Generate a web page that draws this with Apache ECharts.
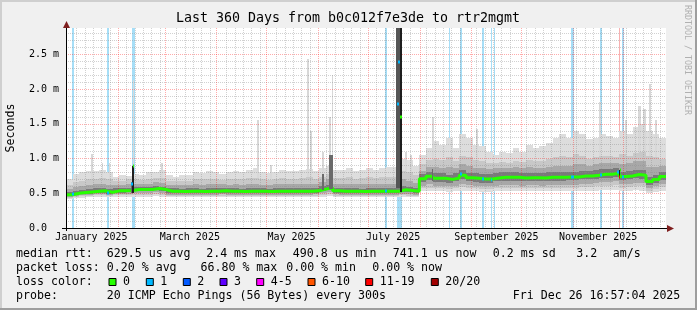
<!DOCTYPE html>
<html><head><meta charset="utf-8">
<script src="https://cdn.jsdelivr.net/npm/echarts@6/dist/echarts.min.js"></script>
<style>html,body{margin:0;padding:0;background:#f0f0f0}#c{width:697px;height:310px}</style>
</head><body><div id="c"></div>
<script>
// ---------------- DATA (days since 2024-12-31 16:57:04, values in ms) ----------------
const BIN_DAYS = 4;
const median = [0.48,0.50,0.51,0.52,0.53,0.535,0.515,0.535,0.535,0.54,
 0.555,0.555,0.555,0.57,0.555,0.53,0.53,0.525,0.53,0.53,
 0.525,0.53,0.53,0.535,0.53,0.53,0.525,0.53,0.53,0.53,
 0.525,0.53,0.53,0.53,0.53,0.53,0.53,0.535,0.56,0.58,
 0.535,0.53,0.53,0.53,0.525,0.53,0.53,0.53,0.53,0.53,
 0.55,0.54,0.53,0.71,0.745,0.715,0.715,0.70,0.72,0.76,
 0.725,0.715,0.705,0.705,0.72,0.73,0.73,0.73,0.72,0.725,
 0.725,0.72,0.73,0.73,0.73,0.735,0.735,0.75,0.75,0.76,
 0.775,0.775,0.79,0.74,0.75,0.77,0.76,0.67,0.70,0.74];
const smokeMin = [0.42,0.43,0.435,0.44,0.445,0.445,0.44,0.445,0.445,0.445,
 0.45,0.45,0.45,0.455,0.45,0.44,0.44,0.44,0.44,0.44,
 0.44,0.44,0.44,0.44,0.44,0.44,0.44,0.44,0.44,0.44,
 0.44,0.44,0.44,0.44,0.44,0.44,0.44,0.44,0.45,0.46,
 0.44,0.44,0.44,0.44,0.44,0.44,0.44,0.44,0.44,0.44,
 0.45,0.45,0.44,0.53,0.54,0.53,0.53,0.52,0.53,0.54,
 0.53,0.53,0.52,0.52,0.53,0.53,0.53,0.53,0.53,0.53,
 0.53,0.53,0.53,0.53,0.53,0.53,0.53,0.54,0.54,0.54,
 0.55,0.55,0.55,0.53,0.54,0.55,0.54,0.50,0.52,0.54];
const smokeMax = [0.70,0.78,0.80,0.82,0.82,0.84,0.80,0.74,0.76,0.75,
 0.78,0.76,0.80,0.80,0.84,0.76,0.74,0.76,0.77,0.80,
 0.79,0.82,0.80,0.78,0.80,0.82,0.80,0.84,0.86,0.80,
 0.79,0.80,0.84,0.82,0.82,0.84,0.85,0.82,0.86,0.90,
 0.84,0.84,0.86,0.82,0.83,0.86,0.84,0.86,0.88,0.88,
 1.00,0.98,0.90,1.05,1.15,1.25,1.20,1.30,1.15,1.35,
 1.30,1.20,1.18,1.10,1.05,1.10,1.08,1.15,1.10,1.20,
 1.15,1.18,1.22,1.30,1.35,1.30,1.40,1.35,1.28,1.30,
 1.35,1.32,1.30,1.40,1.35,1.45,1.50,1.40,1.35,1.30];
const band2Lo = [0.435,0.45,0.46,0.465,0.47,0.47,0.46,0.47,0.47,0.47,
 0.48,0.48,0.48,0.49,0.48,0.46,0.46,0.46,0.46,0.46,
 0.46,0.46,0.46,0.46,0.46,0.46,0.46,0.46,0.46,0.46,
 0.46,0.46,0.46,0.46,0.46,0.46,0.46,0.46,0.48,0.49,
 0.46,0.46,0.46,0.46,0.46,0.46,0.46,0.46,0.46,0.46,
 0.47,0.465,0.46,0.57,0.58,0.57,0.57,0.56,0.57,0.59,
 0.57,0.57,0.56,0.56,0.57,0.575,0.575,0.575,0.57,0.57,
 0.57,0.57,0.575,0.575,0.575,0.58,0.58,0.59,0.59,0.60,
 0.61,0.61,0.62,0.58,0.59,0.60,0.60,0.53,0.56,0.59];
const band2Hi = [0.62,0.66,0.68,0.70,0.70,0.72,0.70,0.68,0.68,0.70,
 0.70,0.69,0.70,0.72,0.72,0.68,0.67,0.68,0.68,0.70,
 0.70,0.71,0.70,0.69,0.70,0.71,0.70,0.72,0.72,0.70,
 0.69,0.70,0.72,0.71,0.71,0.72,0.73,0.71,0.74,0.78,
 0.72,0.72,0.73,0.71,0.72,0.73,0.72,0.73,0.74,0.74,
 0.82,0.80,0.76,0.92,0.98,1.00,0.98,1.02,0.96,1.04,
 1.02,0.98,0.97,0.94,0.93,0.95,0.94,0.97,0.95,0.98,
 0.96,0.97,0.99,1.02,1.04,1.02,1.06,1.04,1.00,1.02,
 1.04,1.03,1.02,1.06,1.04,1.08,1.10,1.04,1.02,1.00];
const band3Lo = [0.445,0.46,0.47,0.48,0.485,0.49,0.475,0.49,0.49,0.49,
 0.50,0.50,0.50,0.515,0.50,0.48,0.48,0.475,0.48,0.48,
 0.475,0.48,0.48,0.485,0.48,0.48,0.475,0.48,0.48,0.48,
 0.475,0.48,0.48,0.48,0.48,0.48,0.48,0.485,0.50,0.52,
 0.485,0.48,0.48,0.48,0.475,0.48,0.48,0.48,0.48,0.48,
 0.49,0.485,0.48,0.61,0.63,0.61,0.61,0.60,0.61,0.64,
 0.62,0.61,0.60,0.60,0.61,0.62,0.62,0.62,0.61,0.615,
 0.615,0.61,0.62,0.62,0.62,0.625,0.625,0.64,0.64,0.65,
 0.66,0.66,0.67,0.63,0.64,0.65,0.65,0.57,0.60,0.63];
const band3Hi = [0.56,0.59,0.61,0.62,0.63,0.64,0.62,0.62,0.62,0.63,
 0.64,0.64,0.64,0.66,0.65,0.62,0.62,0.62,0.62,0.63,
 0.62,0.63,0.63,0.63,0.62,0.63,0.62,0.63,0.63,0.62,
 0.62,0.63,0.63,0.63,0.63,0.63,0.64,0.63,0.66,0.70,
 0.64,0.63,0.64,0.63,0.63,0.64,0.63,0.64,0.64,0.64,
 0.70,0.68,0.65,0.82,0.88,0.88,0.87,0.88,0.86,0.92,
 0.90,0.87,0.86,0.85,0.86,0.87,0.87,0.88,0.86,0.88,
 0.87,0.87,0.88,0.90,0.90,0.90,0.92,0.92,0.90,0.92,
 0.94,0.93,0.94,0.92,0.93,0.96,0.96,0.88,0.88,0.90];
const coreLo = [0.455,0.475,0.485,0.495,0.505,0.51,0.49,0.51,0.51,0.515,
 0.53,0.53,0.53,0.545,0.53,0.505,0.505,0.50,0.505,0.505,
 0.50,0.505,0.505,0.51,0.505,0.505,0.50,0.505,0.505,0.505,
 0.50,0.505,0.505,0.505,0.505,0.505,0.505,0.51,0.53,0.55,
 0.51,0.505,0.505,0.505,0.50,0.505,0.505,0.505,0.505,0.505,
 0.525,0.515,0.505,0.66,0.69,0.665,0.665,0.65,0.67,0.71,
 0.675,0.665,0.655,0.655,0.67,0.68,0.68,0.68,0.67,0.675,
 0.675,0.67,0.68,0.68,0.68,0.685,0.685,0.70,0.70,0.71,
 0.725,0.725,0.74,0.69,0.70,0.72,0.71,0.62,0.65,0.69];
const coreHi = [0.52,0.54,0.55,0.56,0.57,0.575,0.56,0.575,0.575,0.58,
 0.595,0.595,0.595,0.61,0.595,0.57,0.57,0.565,0.57,0.57,
 0.565,0.57,0.57,0.575,0.57,0.57,0.565,0.57,0.57,0.57,
 0.565,0.57,0.57,0.57,0.57,0.57,0.57,0.575,0.60,0.62,
 0.575,0.57,0.57,0.57,0.565,0.57,0.57,0.57,0.57,0.57,
 0.60,0.59,0.575,0.78,0.81,0.785,0.785,0.77,0.79,0.83,
 0.795,0.785,0.775,0.775,0.79,0.80,0.80,0.80,0.79,0.795,
 0.795,0.79,0.80,0.80,0.80,0.805,0.805,0.82,0.82,0.83,
 0.845,0.845,0.86,0.81,0.82,0.84,0.83,0.74,0.77,0.81];
// thin light-gray outlier spikes [fromDay, toDay, low, high]
const spikes = [[15.0,16.2,0.55,1.07],[21.3,21.9,0.55,0.94],[25.5,26.4,0.55,0.94],[39.9,40.8,0.55,2.13],
 [57.0,58.2,0.55,0.94],[114.6,115.8,0.55,1.55],[122.4,123.6,0.55,0.91],[144.6,145.8,0.55,2.43],
 [146.4,147.6,0.55,1.40],[153.6,154.8,0.55,1.09],[157.8,159.0,0.55,1.60],[159.3,160.2,0.55,2.20],
 [203.4,204.6,0.55,1.10],[206.4,207.6,0.55,1.05],[219.6,220.8,0.75,1.60],[246.0,247.2,0.75,1.42],
 [319.5,320.7,0.8,1.82],[335.4,336.6,0.8,1.55],[343.2,345.0,0.8,1.75],[346.2,348.0,0.8,1.72],
 [349.8,351.0,0.8,2.07],[353.4,354.6,0.8,1.55]];
// darker smoke columns (burst of slow replies / outage)
const midDarkBars = [[153.6,154.8,0.55,0.78],[157.8,160.2,0.56,1.05],[219.6,220.4,0.68,0.85],[38.7,39.6,0.50,0.66]];
const darkBars = [[198.2,200.4,0.58,2.88]];
const blackBars = [[39.6,40.6,0.50,0.90],[200.4,201.4,0.52,2.88],[331.8,332.6,0.72,0.84]];
// loss bars [fromDay, toDay, lossClass]
const lossStripes = [[3.3,4.5,1],[24.6,25.8,1],[39.3,41.1,1],[191.4,192.3,1],[198.3,201.3,1],[229.5,230.4,1],
 [236.4,237.3,1],[249.6,250.5,1],[254.7,255.6,1],[256.5,257.4,1],[302.7,304.5,1],[320.4,321.3,1],
 [331.5,332.4,6],[333.3,334.5,1]];
// median samples coloured by loss [fromDay, toDay, value, lossClass]
const lossMarks = [[3.3,4.5,0.49,1],[24.6,25.8,0.51,1],[39.0,39.9,0.63,1],[39.9,40.8,0.90,0],[191.4,192.3,0.53,1],
 [198.4,199.6,1.78,1],[199.4,200.2,2.39,1],[200.4,201.4,1.60,0],[236.4,237.3,0.78,1],[249.6,250.5,0.70,1],
 [254.7,255.6,0.69,1],[302.7,304.5,0.73,1],[320.4,321.3,0.77,1],[330.6,331.5,0.80,1],[331.5,332.4,0.74,6],
 [332.1,333.0,0.84,0],[333.3,334.5,0.74,1]];
const lossLabels = ['0','1','2','3','4-5','6-10','11-19','20/20'];
const monthStarts = [0.29,31.29,59.29,90.29,120.29,151.29,181.29,212.29,243.29,273.29,304.29,334.29];
const minorDays = [6.29,11.29,16.29,21.29,26.29,36.29,41.29,46.29,51.29,56.29,66.29,71.29,76.29,81.29,86.29,
 96.29,101.29,106.29,111.29,116.29,126.29,131.29,136.29,141.29,146.29,156.29,161.29,166.29,171.29,176.29,
 186.29,191.29,196.29,201.29,206.29,216.29,221.29,226.29,231.29,236.29,246.29,251.29,256.29,261.29,266.29,
 276.29,281.29,286.29,291.29,296.29,306.29,311.29,316.29,321.29,326.29,336.29,341.29,346.29,351.29,356.29];
const labelDays = [15.29,74.29,135.29,196.29,258.29,319.29];
const labelTexts = ['January 2025','March 2025','May 2025','July 2025','September 2025','November 2025'];
const yMajor = [0,0.5,1.0,1.5,2.0,2.5];
const yMinor = [0.1,0.2,0.3,0.4,0.6,0.7,0.8,0.9,1.1,1.2,1.3,1.4,1.6,1.7,1.8,1.9,2.1,2.2,2.3,2.4,2.6,2.7,2.8];
const Y_MAX = 2.88, X_MAX = 360;

// ---------------- STYLE ----------------
const MONO = '"DejaVu Sans Mono", monospace';
const lossColors = ['#26ff00','#00b8ff','#0059ff','#5e00ff','#ff00ff','#ff5500','#ff0000','#a10000'];
const lossLight = ['#a8ff99','#a6def7','#99bdff','#bf99ff','#ff99ff','#ffbb99','#f7b0b0','#d99999'];

function bandData(lo, hi){ return lo.map((v,i)=>[i*BIN_DAYS,(i+1)*BIN_DAYS,v,hi[i]]); }
function rectSeries(data, color, z){
  return {type:'custom', z, silent:true, animation:false, clip:true, xAxisIndex:0, yAxisIndex:0,
    encode:{x:[0,1], y:[2,3]}, data,
    renderItem:(p, api)=>{
      const a = api.coord([api.value(0), api.value(3)]);
      const b = api.coord([api.value(1), api.value(2)]);
      const x0 = Math.round(a[0]), x1 = Math.round(b[0]), y0 = Math.round(a[1]), y1 = Math.round(b[1]);
      return {type:'rect', shape:{x:x0, y:y0, width:Math.max(1,x1-x0), height:Math.max(1,y1-y0)}, style:{fill:color}};
    }};
}
const stripeSeries = {type:'custom', z:1, silent:true, animation:false, xAxisIndex:0, yAxisIndex:0,
  data: lossStripes, encode:{x:[0,1]},
  renderItem:(p, api)=>{
    const a = api.coord([api.value(0), Y_MAX]); const b = api.coord([api.value(1), 0]);
    const x0 = Math.round(a[0]), x1 = Math.round(b[0]);
    return {type:'rect', shape:{x:x0, y:a[1], width:Math.max(1,x1-x0), height:b[1]-a[1]}, style:{fill:lossLight[api.value(2)]}};
  }};
const markSeries = {type:'custom', z:12, silent:true, animation:false, xAxisIndex:0, yAxisIndex:0,
  data: lossMarks, encode:{x:[0,1], y:2},
  renderItem:(p, api)=>{
    const a = api.coord([api.value(0), api.value(2)]); const b = api.coord([api.value(1), api.value(2)]);
    const x0 = Math.round(a[0]), x1 = Math.round(b[0]);
    return {type:'rect', shape:{x:x0, y:Math.round(a[1])-1.5, width:Math.max(1,x1-x0), height:3}, style:{fill:lossColors[api.value(3)]}};
  }};
const medianPts = median.map((v,i)=>[i*BIN_DAYS, v]).concat([[X_MAX, median[median.length-1]]]);

const gridLineMinor = {show:true, lineStyle:{color:'rgba(140,140,140,0.4)', width:1, type:[1,1]}};
const gridLineMajor = {show:true, lineStyle:{color:'rgba(255,0,0,0.33)', width:1, type:[1,1]}};
const hidden = {axisLine:{show:false}, axisTick:{show:false}, axisLabel:{show:false}};

const graphics = [];
graphics.push({type:'rect', z:50, shape:{x:0,y:0,width:697,height:2}, style:{fill:'#cfcfcf'}});
graphics.push({type:'rect', z:50, shape:{x:0,y:0,width:2,height:310}, style:{fill:'#cfcfcf'}});
graphics.push({type:'rect', z:50, shape:{x:0,y:308,width:697,height:2}, style:{fill:'#9e9e9e'}});
graphics.push({type:'rect', z:50, shape:{x:695,y:0,width:2,height:310}, style:{fill:'#9e9e9e'}});
graphics.push({type:'line', z:50, shape:{x1:62,y1:228.5,x2:668,y2:228.5}, style:{stroke:'#000',lineWidth:1}});
graphics.push({type:'line', z:50, shape:{x1:66.5,y1:231,x2:66.5,y2:27}, style:{stroke:'#000',lineWidth:1}});
graphics.push({type:'polygon', z:51, shape:{points:[[667,225],[674,228.5],[667,232]]}, style:{fill:'#7f1f1f'}});
graphics.push({type:'polygon', z:51, shape:{points:[[63,28],[66.5,21],[70,28]]}, style:{fill:'#7f1f1f'}});
function txt(x, y, s, size){
  return {type:'text', z:60, x, y, silent:true,
    style:{text:s, fill:'#000', font: size+'px '+MONO, align:'left', verticalAlign:'middle'}};
}
graphics.push({type:'text', z:60, x:348, y:19, style:{text:'Last 360 Days from b0c012f7e3de to rtr2mgmt', fill:'#000', font:'13.3px '+MONO, align:'center', verticalAlign:'middle'}});
graphics.push({type:'text', z:60, x:11, y:128, rotation:Math.PI/2, style:{text:'Seconds', fill:'#000', font:'11.6px '+MONO, align:'center', verticalAlign:'middle'}});
graphics.push({type:'text', z:60, x:687, y:60, rotation:-Math.PI/2, style:{text:'RRDTOOL / TOBI OETIKER', fill:'#b0b0b0', font:'8.3px '+MONO, align:'center', verticalAlign:'middle'}});
const LF = 11.6;
const row1 = [[16,'median rtt:'],[106.8,'629.5 us avg'],[206.2,'2.4 ms max'],[292.8,'490.8 us min'],[392.8,'741.1 us now'],[492.8,'0.2 ms sd'],[576.2,'3.2'],[612.8,'am/s']];
const row2 = [[16,'packet loss:'],[106.8,'0.20 % avg'],[200.5,'66.80 % max'],[286.2,'0.00 % min'],[372.2,'0.00 % now']];
const row4 = [[16,'probe:'],[106.8,'20 ICMP Echo Pings (56 Bytes) every 300s'],[512.8,'Fri Dec 26 16:57:04 2025']];
row1.forEach(r=>graphics.push(txt(r[0], 254.3, r[1], LF)));
row2.forEach(r=>graphics.push(txt(r[0], 268.3, r[1], LF)));
row4.forEach(r=>graphics.push(txt(r[0], 295.5, r[1], LF)));
graphics.push(txt(16, 282.2, 'loss color:', LF));
const boxX = [108.5,145.8,182.8,219.5,256.2,307.5,365.2,430.8];
lossLabels.forEach((l,i)=>{
  graphics.push({type:'rect', z:60, shape:{x:boxX[i]+0.5, y:278.5, width:7, height:7}, style:{fill:lossColors[i], stroke:'#000', lineWidth:1}});
  graphics.push(txt(boxX[i]+14.5, 282.2, l, LF));
});

const option = {
  backgroundColor:'#f0f0f0',
  animation:false,
  grid:{left:66, top:28, width:600, height:200, show:true, backgroundColor:'#ffffff', borderWidth:0},
  xAxis:[
    Object.assign({type:'value', position:'bottom', offset:0, min:0, max:X_MAX, z:3, splitLine:gridLineMinor}, hidden, {axisTick:{show:false, customValues:minorDays}}),
    Object.assign({type:'value', position:'bottom', offset:0, min:0, max:X_MAX, z:3, splitLine:gridLineMajor}, hidden, {axisTick:{show:false, customValues:monthStarts}}),
    {type:'value', position:'bottom', offset:0, min:0, max:X_MAX, z:3, axisLine:{show:false}, axisTick:{show:false, customValues:labelDays}, splitLine:{show:false},
     axisLabel:{show:true, customValues:labelDays, margin:4, color:'#000', fontFamily:MONO, fontSize:10,
       formatter:(v)=>{const i = labelDays.findIndex(d=>Math.abs(d-v)<1e-6); return i>=0?labelTexts[i]:'';}}}
  ],
  yAxis:[
    Object.assign({type:'value', position:'left', offset:0, min:0, max:Y_MAX, z:3, splitLine:gridLineMinor}, hidden, {axisTick:{show:false, customValues:yMinor}}),
    {type:'value', position:'left', offset:0, min:0, max:Y_MAX, z:3, axisLine:{show:false}, axisTick:{show:false, customValues:yMajor}, splitLine:gridLineMajor,
     axisLabel:{show:true, customValues:yMajor, margin:7, color:'#000', fontFamily:MONO, fontSize:10,
       formatter:(v)=> v===0 ? '0.0  ' : v.toFixed(1)+' m'}}
  ],
  graphic: graphics,
  series:[
    stripeSeries,
    rectSeries(bandData(smokeMin, smokeMax), '#dddddd', 2),
    rectSeries(spikes, '#d8d8d8', 2),
    rectSeries(bandData(band2Lo, band2Hi), '#c8c8c8', 2),
    rectSeries(bandData(band3Lo, band3Hi), '#a8a8a8', 2),
    rectSeries(bandData(coreLo, coreHi), '#7a7a7a', 2),
    {type:'line', z:8, xAxisIndex:0, yAxisIndex:0, step:'end', showSymbol:false, silent:true, animation:false,
     data: medianPts, lineStyle:{color:'#26ff00', width:3}},
    rectSeries(midDarkBars, '#6a6a6a', 9),
    rectSeries(darkBars, '#555555', 9),
    rectSeries(blackBars, '#1e1e1e', 9),
    markSeries
  ]
};
const chart = echarts.init(document.getElementById('c'));
chart.setOption(option);
</script></body></html>
